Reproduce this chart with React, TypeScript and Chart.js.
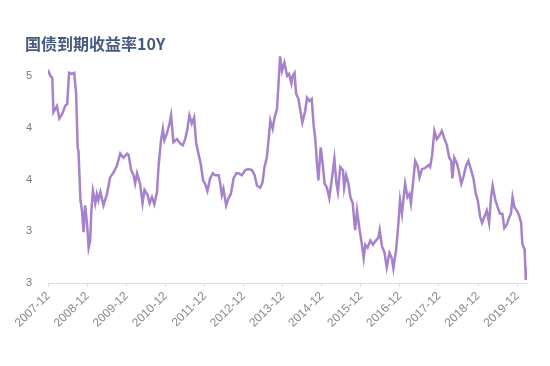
import React, { useEffect, useRef } from "react";
import { Chart, registerables } from "chart.js";

Chart.register(...registerables);

const titleText = "国债到期收益率10Y";

// decimal-year dates
const dates = [
  2007.91, 2007.97, 2008.02, 2008.05, 2008.14, 2008.2, 2008.27, 2008.35, 2008.4, 2008.45,
  2008.52, 2008.58, 2008.63, 2008.67, 2008.69, 2008.74, 2008.78, 2008.82, 2008.86, 2008.91,
  2008.95, 2008.99, 2009.02, 2009.06, 2009.12, 2009.16, 2009.2, 2009.25, 2009.33, 2009.42,
  2009.5, 2009.59, 2009.67, 2009.76, 2009.84, 2009.93, 2009.97, 2010.04, 2010.1, 2010.14,
  2010.19, 2010.27, 2010.33, 2010.38, 2010.46, 2010.51, 2010.57, 2010.63, 2010.7, 2010.74,
  2010.8, 2010.85, 2010.89, 2010.95, 2011.02, 2011.06, 2011.12, 2011.21, 2011.29, 2011.36,
  2011.42, 2011.47, 2011.53, 2011.59, 2011.65, 2011.7, 2011.76, 2011.82, 2011.88, 2011.93,
  2011.99, 2012.06, 2012.13, 2012.19, 2012.28, 2012.32, 2012.36, 2012.4, 2012.47, 2012.53,
  2012.59, 2012.66, 2012.73, 2012.79, 2012.87, 2012.96, 2013.04, 2013.13, 2013.2, 2013.26,
  2013.34, 2013.4, 2013.45, 2013.51, 2013.55, 2013.6, 2013.66, 2013.71, 2013.77, 2013.81,
  2013.85, 2013.9, 2013.96, 2014.03, 2014.08, 2014.14, 2014.17, 2014.22, 2014.26, 2014.32,
  2014.37, 2014.42, 2014.49, 2014.54, 2014.6, 2014.66, 2014.71, 2014.75, 2014.79, 2014.83,
  2014.89, 2014.94, 2014.99, 2015.05, 2015.11, 2015.18, 2015.24, 2015.29, 2015.33, 2015.39,
  2015.46, 2015.49, 2015.54, 2015.6, 2015.65, 2015.71, 2015.77, 2015.82, 2015.88, 2015.94,
  2015.99, 2016.03, 2016.09, 2016.16, 2016.23, 2016.28, 2016.37, 2016.4, 2016.46, 2016.52,
  2016.58, 2016.65, 2016.71, 2016.75, 2016.82, 2016.88, 2016.92, 2016.97, 2017.01, 2017.05,
  2017.11, 2017.16, 2017.2, 2017.25, 2017.31, 2017.37, 2017.42, 2017.48, 2017.56, 2017.65,
  2017.69, 2017.74, 2017.8, 2017.86, 2017.92, 2017.99, 2018.06, 2018.12, 2018.18, 2018.23,
  2018.26, 2018.31, 2018.38, 2018.42, 2018.49, 2018.54, 2018.61, 2018.67, 2018.74, 2018.8,
  2018.86, 2018.91, 2018.97, 2019.02, 2019.08, 2019.14, 2019.2, 2019.25, 2019.29, 2019.36,
  2019.42, 2019.48, 2019.54, 2019.59, 2019.65, 2019.71, 2019.76, 2019.8, 2019.85, 2019.91,
  2019.97, 2020.02, 2020.05, 2020.11, 2020.14, 2020.17,
];

const yields = [
  4.56, 4.5, 4.48, 4.15, 4.21, 4.09, 4.13, 4.21, 4.23, 4.53,
  4.52, 4.53, 4.33, 3.8, 3.78, 3.3, 3.2, 2.99, 3.25, 3.07,
  2.84, 2.91, 3.2, 3.39, 3.27, 3.36, 3.3, 3.38, 3.25, 3.36,
  3.52, 3.57, 3.63, 3.75, 3.71, 3.75, 3.74, 3.59, 3.54, 3.46,
  3.56, 3.45, 3.27, 3.4, 3.35, 3.27, 3.33, 3.26, 3.38, 3.63,
  3.87, 3.99, 3.88, 3.94, 4.04, 4.12, 3.86, 3.89, 3.85, 3.83,
  3.89, 3.97, 4.12, 4.04, 4.1, 3.86, 3.75, 3.65, 3.49, 3.46,
  3.39, 3.51, 3.56, 3.54, 3.54, 3.46, 3.35, 3.41, 3.25, 3.32,
  3.36, 3.51, 3.56, 3.56, 3.54, 3.59, 3.6, 3.59, 3.54, 3.44,
  3.42, 3.47, 3.62, 3.71, 3.86, 4.07, 3.99, 4.1, 4.18, 4.42,
  4.69, 4.55, 4.63, 4.5, 4.52, 4.43, 4.5, 4.53, 4.33, 4.28,
  4.16, 4.05, 4.16, 4.29, 4.26, 4.28, 4.02, 3.9, 3.68, 3.49,
  3.81, 3.65, 3.46, 3.42, 3.32, 3.52, 3.7, 3.47, 3.38, 3.62,
  3.59, 3.42, 3.54, 3.46, 3.33, 3.27, 3.01, 3.2, 3.03, 2.88,
  2.74, 2.87, 2.84, 2.91, 2.87, 2.9, 2.94, 3.01, 2.85, 2.8,
  2.65, 2.79, 2.74, 2.64, 2.82, 3.08, 3.3, 3.17, 3.32, 3.46,
  3.33, 3.36, 3.27, 3.46, 3.68, 3.63, 3.52, 3.6, 3.61, 3.64,
  3.62, 3.73, 3.97, 3.89, 3.92, 3.97, 3.89, 3.83, 3.71, 3.68,
  3.51, 3.71, 3.65, 3.59, 3.46, 3.52, 3.63, 3.68, 3.59, 3.51,
  3.36, 3.3, 3.14, 3.08, 3.14, 3.2, 3.08, 3.33, 3.44, 3.3,
  3.23, 3.17, 3.17, 3.03, 3.06, 3.13, 3.17, 3.33, 3.23, 3.2,
  3.15, 3.08, 2.88, 2.82, 2.53, 2.65,
];

const xTickYears = [2007, 2008, 2009, 2010, 2011, 2012, 2013, 2014, 2015, 2016, 2017, 2018, 2019];
const yTickValues = [2.5, 3, 3.5, 4, 4.5];

export default function App() {
  const ref = useRef<HTMLCanvasElement | null>(null);

  useEffect(() => {
    if (!ref.current) return;
    const chart = new Chart(ref.current, {
      type: "line",
      data: {
        datasets: [
          {
            data: dates.map((d, i) => ({ x: d, y: yields[i] })),
            borderColor: "#a582cb",
            borderWidth: 2.5,
            pointRadius: 0,
            tension: 0,
            fill: false,
          },
        ],
      },
      options: {
        animation: false,
        responsive: false,
        maintainAspectRatio: false,
        layout: { padding: { left: 17, right: 15, top: 0, bottom: 0 } },
        plugins: {
          legend: { display: false },
          tooltip: { enabled: false },
          title: {
            display: true,
            text: titleText,
            align: "start",
            color: "#485a7e",
            font: { family: "'Noto Sans CJK SC', sans-serif", size: 16, weight: "bold" },
            padding: { top: 26, bottom: 0 },
          },
        },
        scales: {
          x: {
            type: "linear",
            min: 2007.91,
            max: 2020.17,
            afterBuildTicks: (scale: any) => {
              scale.ticks = xTickYears.map((y) => ({ value: y + 0.917 }));
            },
            afterFit: (scale: any) => {
              scale.height = 75;
            },
            ticks: {
              autoSkip: false,
              maxRotation: 45,
              minRotation: 45,
              padding: 2,
              color: "#8a8a8a",
              font: { family: "'Liberation Sans', Arial, sans-serif", size: 12 },
              callback: (v: any) => `${Math.floor(Number(v))}-12`,
            },
            grid: {
              display: true,
              drawOnChartArea: false,
              drawTicks: true,
              tickLength: 4,
              color: "#e0e0e0",
            },
            border: { display: true, color: "#e0e0e0" },
          },
          y: {
            min: 2.5,
            max: 4.72,
            afterBuildTicks: (scale: any) => {
              scale.ticks = yTickValues.map((v) => ({ value: v }));
            },
            afterFit: (scale: any) => {
              scale.width = 23;
            },
            ticks: {
              padding: 8,
              color: "#7a7a7a",
              font: { family: "'Liberation Sans', Arial, sans-serif", size: 11 },
              callback: (v: any) => String(Math.round(Number(v))),
            },
            grid: { display: false },
            border: { display: false },
          },
        },
      },
    });
    return () => chart.destroy();
  }, []);

  return (
    <div style={{ width: 534, height: 350 }}>
      <canvas ref={ref} width={534} height={350} style={{ width: 534, height: 350 }} />
    </div>
  );
}
